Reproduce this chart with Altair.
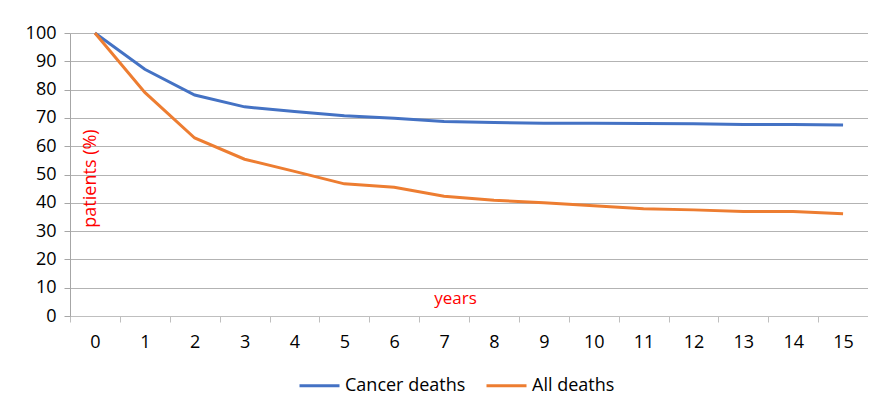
import altair as alt
import pandas as pd

years = list(range(16))
cancer_deaths = [100, 87.2, 78.1, 73.9, 72.3, 70.8, 69.9, 68.7, 68.4, 68.1, 68.1, 68.0, 67.9, 67.7, 67.7, 67.5]
all_deaths = [100, 79.0, 62.9, 55.4, 51.1, 46.7, 45.5, 42.3, 40.9, 40.0, 39.0, 37.9, 37.5, 36.9, 36.9, 36.1]
series_names = ["Cancer deaths", "All deaths"]
series_colors = ["#4472C4", "#ED7D31"]

rows = []
for y, c, a in zip(years, cancer_deaths, all_deaths):
    rows.append({"year": y, "series": series_names[0], "value": c})
    rows.append({"year": y, "series": series_names[1], "value": a})
df = pd.DataFrame(rows)

FONT = "Open Sans"
FS = 18

chart = alt.Chart(df).mark_line(strokeWidth=3).encode(
    x=alt.X(
        "year:O",
        bandPosition=0.5,
        scale=alt.Scale(type="band", paddingInner=0, paddingOuter=0),
        axis=alt.Axis(
            title="years",
            titleColor="#FF0000",
            titleFont=FONT,
            titleFontSize=17,
            titleFontWeight="normal",
            titleX=385,
            titleY=-18,
            titleAlign="center",
            titleBaseline="middle",
            labelAngle=0,
            labelFont=FONT,
            labelFontSize=FS,
            labelColor="#000000",
            labelPadding=11,
            tickBand="extent",
            tickSize=6,
            tickColor="#BFBFBF",
            domainColor="#BFBFBF",
            grid=False,
        ),
    ),
    y=alt.Y(
        "value:Q",
        scale=alt.Scale(domain=[0, 100]),
        axis=alt.Axis(
            values=list(range(0, 101, 10)),
            title="patients (%)",
            titleColor="#FF0000",
            titleFont=FONT,
            titleFontSize=18,
            titleFontWeight="normal",
            titleX=20,
            titleY=145,
            titleAlign="center",
            titleBaseline="middle",
            titleAngle=270,
            labelFont=FONT,
            labelFontSize=FS,
            labelColor="#000000",
            labelPadding=8,
            tickSize=6,
            tickColor="#A6A6A6",
            domainColor="#A6A6A6",
            gridColor="#B3B3B3",
            gridWidth=1,
        ),
    ),
    color=alt.Color(
        "series:N",
        scale=alt.Scale(domain=series_names, range=series_colors),
        sort=series_names,
        legend=alt.Legend(
            title=None,
            orient="none",
            direction="horizontal",
            legendX=228,
            legendY=331,
            symbolType="stroke",
            symbolSize=1600,
            symbolStrokeWidth=3,
            labelFont=FONT,
            labelFontSize=FS,
            labelColor="#000000",
            columnPadding=14,
            labelOffset=4,
        ),
    ),
).properties(
    width=798,
    height=283,
    autosize=alt.AutoSizeParams(type="none"),
    padding={"left": 62, "top": 25, "right": 0, "bottom": 84},
).configure_view(stroke=None)

chart.save("out.html", embed_options={"renderer": "svg", "actions": False})
